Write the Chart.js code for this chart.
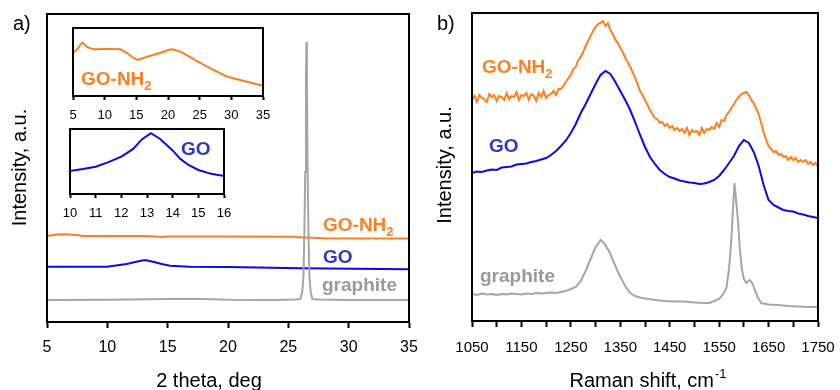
<!DOCTYPE html>
<html>
<head>
<meta charset="utf-8">
<script src="https://cdn.jsdelivr.net/npm/chart.js@4.4.1/dist/chart.umd.min.js"></script>
<style>
  html, body { margin: 0; padding: 0; background: #fff; }
  #wrap { position: relative; width: 840px; height: 390px; overflow: hidden; }
  canvas { position: absolute; }
</style>
</head>
<body>
<div id="wrap">
  <canvas id="xrd" width="420" height="390" style="left:0;top:0"></canvas>
  <canvas id="insetNH2" width="215" height="110" style="left:60px;top:20px"></canvas>
  <canvas id="insetGO" width="180" height="105" style="left:58px;top:122px"></canvas>
  <canvas id="raman" width="420" height="390" style="left:420px;top:0"></canvas>
</div>
<script>
// a) XRD, main panel (intensity in a.u., offset traces)
var xrdNH2Angle = [5, 5.8, 6.5, 7.5, 8, 13, 14, 14.5, 15, 20, 25.5, 26, 26.5, 28, 35];
var xrdNH2 = [86, 87.5, 87.7, 87, 86, 86, 85.5, 85, 85.5, 85.5, 85.3, 84.5, 84.5, 83.8, 83.5];
var xrdGOAngle = [5, 10, 11.6, 12.5, 13.1, 13.8, 14.5, 15.2, 16.8, 20, 26, 35];
var xrdGO = [55.3, 55.3, 58, 60.5, 62, 60.3, 58, 56.3, 55.3, 55, 53.7, 52.7];
var xrdGraphiteAngle = [5, 10, 15, 18, 20, 24, 25.5, 26, 26.15, 26.25, 26.33, 26.4, 26.46, 26.5, 26.54, 26.6, 26.67, 26.75, 26.85, 27, 27.5, 30, 35];
var xrdGraphite = [22, 22.2, 23, 23, 22.3, 22, 22.5, 23, 30, 45, 90, 150, 240, 280, 240, 150, 90, 45, 30, 23, 22.5, 22, 22];

// a) insets
var insetNH2Angle = [5, 5.8, 6.2, 6.5, 7.3, 8.3, 9.9, 11, 12.5, 13.6, 14.5, 15.2, 16.7, 18.8, 20.4, 21, 22, 24.1, 26.7, 29.4, 32, 35];
var insetNH2 = [0.63, 0.70, 0.76, 0.784, 0.716, 0.686, 0.691, 0.69, 0.686, 0.628, 0.56, 0.529, 0.578, 0.637, 0.686, 0.68, 0.651, 0.539, 0.407, 0.284, 0.221, 0.15];
var insetGOAngle = [10, 10.5, 11, 11.5, 12, 12.45, 12.8, 13.15, 13.5, 14, 14.3, 14.6, 15, 15.5, 16];
var insetGO = [0.355, 0.385, 0.42, 0.49, 0.575, 0.69, 0.84, 0.935, 0.85, 0.67, 0.54, 0.45, 0.37, 0.31, 0.278];

// b) Raman
var ramanNH2Shift = [1050, 1055, 1060, 1065, 1070, 1075, 1080, 1085, 1090, 1095,
  1100, 1105, 1110, 1115, 1120, 1125, 1130, 1135, 1140, 1145,
  1150, 1155, 1160, 1165, 1170, 1175, 1180, 1185, 1190, 1195,
  1200, 1205, 1210, 1215, 1220, 1225, 1230, 1235, 1240, 1245,
  1250, 1255, 1260, 1265, 1270, 1275, 1280, 1285, 1290, 1295,
  1300, 1305, 1310, 1315, 1320, 1325, 1330, 1335, 1340, 1345,
  1350, 1355, 1360, 1365, 1370, 1375, 1380, 1385, 1390, 1395,
  1400, 1405, 1410, 1415, 1420, 1425, 1430, 1435, 1440, 1445,
  1450, 1455, 1460, 1465, 1470, 1475, 1480, 1485, 1490, 1495,
  1500, 1505, 1510, 1515, 1520, 1525, 1530, 1535, 1540, 1545,
  1550, 1555, 1560, 1565, 1570, 1575, 1580, 1585, 1590, 1595,
  1600, 1605, 1610, 1615, 1620, 1625, 1630, 1635, 1640, 1645,
  1650, 1655, 1660, 1665, 1670, 1675, 1680, 1685, 1690, 1695,
  1700, 1705, 1710, 1715, 1720, 1725, 1730, 1735, 1740, 1745, 1750];
var ramanNH2 = [221, 225, 219, 226, 223, 222, 219, 227, 224, 226,
  220, 225, 224, 221, 228, 222, 225, 224, 229, 221,
  226, 225, 228, 221, 227, 225, 220, 228, 224, 230,
  223, 226, 227, 230, 226, 232, 232, 235, 239, 243,
  246, 252, 254, 261, 264, 269, 275, 280, 285, 290,
  294, 297, 298, 300, 295, 298, 291, 287, 281, 278,
  273, 269, 263, 259, 254, 249, 243, 237, 230, 226,
  221, 216, 211, 207, 203, 202, 198, 199, 195, 197,
  193, 195, 191, 193, 190, 192, 188, 193, 186, 191,
  189, 190, 186, 193, 188, 192, 191, 194, 192, 198,
  194, 201, 200, 206, 209, 213, 217, 221, 224, 227,
  228, 229, 226, 221, 218, 212, 207, 198, 189, 181,
  175, 172, 169, 170, 166, 167, 164, 165, 161, 164,
  161, 163, 159, 161, 159, 161, 157, 159, 156, 158, 154];
var ramanGOShift = [1050, 1060, 1070, 1080, 1090, 1100, 1110, 1120, 1130, 1140,
  1150, 1160, 1170, 1180, 1190, 1200, 1210, 1220, 1230, 1240,
  1250, 1260, 1270, 1280, 1290, 1300, 1310, 1320, 1330, 1340,
  1350, 1360, 1370, 1380, 1390, 1400, 1410, 1420, 1430, 1440,
  1450, 1460, 1470, 1480, 1490, 1500, 1510, 1520, 1530, 1540,
  1550, 1560, 1570, 1580, 1590, 1600, 1610, 1620, 1630, 1640,
  1650, 1660, 1670, 1680, 1690, 1700, 1710, 1720, 1730, 1740, 1750];
var ramanGO = [148, 149.5, 149, 150.5, 151.5, 151, 153.5, 154, 154.5, 156.5,
  157, 157.5, 159, 160, 161.5, 163, 166, 170, 175, 180.5,
  188, 197, 208, 217, 227, 237, 246, 250, 247, 239,
  230, 221, 211, 199, 186, 174, 164, 157, 151, 147,
  144, 142.5, 140.5, 139.5, 138.5, 138, 137, 137.5, 139, 141,
  145, 151, 158, 165, 175, 181, 178, 169, 155, 136,
  121, 116, 113.5, 111, 110, 109.5, 107.5, 106.5, 105, 104, 103];
var ramanGraphiteShift = [1050, 1060, 1070, 1080, 1090, 1100, 1110, 1120, 1130, 1140,
  1150, 1160, 1170, 1180, 1190, 1200, 1210, 1220, 1230, 1240,
  1250, 1260, 1270, 1280, 1290, 1300, 1305, 1310, 1315, 1320,
  1330, 1340, 1350, 1360, 1370, 1380, 1390, 1400, 1420, 1440,
  1460, 1480, 1500, 1520, 1530, 1540, 1550, 1560, 1565, 1570,
  1575, 1578, 1581, 1584, 1588, 1592, 1596, 1600, 1605, 1612,
  1618, 1622, 1628, 1635, 1650, 1670, 1690, 1710, 1730, 1750];
var ramanGraphite = [27, 26, 27.5, 26.5, 27, 26, 27, 26.5, 27.5, 27,
  26.5, 27.5, 27, 28, 27.5, 28, 28.5, 28, 29, 30,
  32, 34, 40, 50, 62, 74, 77, 81, 79, 76,
  67, 55, 44, 35, 28, 25, 23.5, 22.5, 21, 20,
  19.5, 19.5, 18.5, 18, 18, 20, 22, 28, 34, 52,
  84, 112, 138, 122, 101, 72, 52, 42, 38, 41,
  37, 31, 24, 18, 16.5, 16, 15, 14.5, 14, 14];

var FONT = "'Liberation Sans', Arial, sans-serif";
var ORANGE = '#FF7F1F', BLUE = '#0A0AE6', BLUE_TXT = '#3434C8', GRAY = '#A6A6A6', GRAY_TXT = '#999999';

function line(xs, ys, color, w) {
  return {
    data: xs.map(function (x, i) { return { x: x, y: ys[i] }; }),
    borderColor: color, borderWidth: w, pointRadius: 0, pointHoverRadius: 0, tension: 0, fill: false
  };
}

function subText(ctx, main, sub, x, y, color, size) {
  ctx.fillStyle = color;
  ctx.textAlign = 'left';
  ctx.textBaseline = 'alphabetic';
  ctx.font = 'bold ' + size + 'px ' + FONT;
  ctx.fillText(main, x, y);
  if (sub) {
    var w = ctx.measureText(main).width;
    ctx.font = 'bold ' + Math.round(size * 0.68) + 'px ' + FONT;
    ctx.fillText(sub, x + w, y + 5);
  }
}

function opts(xmin, xmax, step, tickSize, tickPad, tickLen, pad, axisH, ymax, cb) {
  return {
    responsive: false,
    animation: false,
    layout: { padding: pad, autoPadding: false },
    plugins: { legend: { display: false }, tooltip: { enabled: false } },
    scales: {
      x: {
        type: 'linear', min: xmin, max: xmax,
        ticks: {
          stepSize: step, autoSkip: false, maxRotation: 0, color: '#000',
          font: { family: FONT, size: tickSize }, padding: tickPad, callback: cb
        },
        grid: { display: true, drawOnChartArea: false, drawTicks: true, tickLength: tickLen, tickWidth: 2, tickColor: '#000' },
        border: { display: true, color: '#000', width: 2 },
        afterFit: function (s) { s.height = axisH; s.paddingLeft = 0; s.paddingRight = 0; }
      },
      y: { display: false, min: 0, max: ymax }
    }
  };
}

function framePlugin(draw) {
  return {
    id: 'frame',
    afterDraw: function (chart) {
      var a = chart.chartArea, ctx = chart.ctx;
      ctx.save();
      ctx.strokeStyle = '#000';
      ctx.lineWidth = 2;
      ctx.strokeRect(a.left, a.top, a.right - a.left, a.bottom - a.top);
      if (draw) draw(ctx);
      ctx.restore();
    }
  };
}

function plainNum(v) { return String(v); }

// panel a
new Chart(document.getElementById('xrd'), {
  type: 'line',
  data: { datasets: [
    line(xrdGraphiteAngle, xrdGraphite, GRAY, 2),
    line(xrdGOAngle, xrdGO, BLUE, 2),
    line(xrdNH2Angle, xrdNH2, ORANGE, 2)
  ] },
  options: opts(5, 35, 5, 16, 10, 6, { left: 47, top: 14, right: 11, bottom: 0 }, 68, 308, plainNum),
  plugins: [framePlugin(function (ctx) {
    ctx.fillStyle = '#000';
    ctx.font = '20px ' + FONT;
    ctx.textAlign = 'left';
    ctx.fillText('a)', 13, 30);
    ctx.textAlign = 'center';
    ctx.fillText('2 theta, deg', 209, 387);
    ctx.save();
    ctx.translate(26, 167.5);
    ctx.rotate(-Math.PI / 2);
    ctx.fillText('Intensity, a.u.', 0, 0);
    ctx.restore();
    subText(ctx, 'GO-NH', '2', 323, 231, ORANGE, 19);
    subText(ctx, 'GO', '', 323, 263, BLUE_TXT, 19);
    subText(ctx, 'graphite', '', 322, 291, GRAY_TXT, 19);
  })]
});

new Chart(document.getElementById('insetNH2'), {
  type: 'line',
  data: { datasets: [line(insetNH2Angle, insetNH2, ORANGE, 2)] },
  options: opts(5, 35, 5, 13, 8, 4, { left: 13, top: 8, right: 12, bottom: 0 }, 34, 1, plainNum),
  plugins: [framePlugin(function (ctx) {
    subText(ctx, 'GO-NH', '2', 21, 65, ORANGE, 19);
  })]
});

new Chart(document.getElementById('insetGO'), {
  type: 'line',
  data: { datasets: [line(insetGOAngle, insetGO, BLUE, 2)] },
  options: opts(10, 16, 1, 13, 8, 4, { left: 12, top: 7, right: 14, bottom: 0 }, 33, 1, plainNum),
  plugins: [framePlugin(function (ctx) {
    subText(ctx, 'GO', '', 123, 33, BLUE_TXT, 19);
  })]
});

// panel b
new Chart(document.getElementById('raman'), {
  type: 'line',
  data: { datasets: [
    line(ramanGraphiteShift, ramanGraphite, GRAY, 2),
    line(ramanGOShift, ramanGO, BLUE, 2),
    line(ramanNH2Shift, ramanNH2, ORANGE, 2)
  ] },
  options: opts(1050, 1750, 50, 15, 12, 6, { left: 52, top: 13, right: 22, bottom: 0 }, 69, 308,
    function (v) { return (v - 1050) % 100 === 0 ? String(v) : ''; }),
  plugins: [framePlugin(function (ctx) {
    ctx.fillStyle = '#000';
    ctx.font = '20px ' + FONT;
    ctx.textAlign = 'left';
    ctx.fillText('b)', 17, 30);
    ctx.save();
    ctx.translate(31, 165);
    ctx.rotate(-Math.PI / 2);
    ctx.textAlign = 'center';
    ctx.fillText('Intensity, a.u.', 0, 0);
    ctx.restore();
    var main = 'Raman shift, cm', sup = '-1';
    var w1 = ctx.measureText(main).width;
    ctx.font = '13px ' + FONT;
    var w2 = ctx.measureText(sup).width;
    var x0 = 227.5 - (w1 + w2) / 2;
    ctx.font = '20px ' + FONT;
    ctx.fillText(main, x0, 387);
    ctx.font = '13px ' + FONT;
    ctx.fillText(sup, x0 + w1 + 1, 378);
    subText(ctx, 'GO-NH', '2', 62, 73, ORANGE, 19);
    subText(ctx, 'GO', '', 69, 152, BLUE_TXT, 19);
    subText(ctx, 'graphite', '', 60, 282, GRAY_TXT, 19);
  })]
});
</script>
</body>
</html>
